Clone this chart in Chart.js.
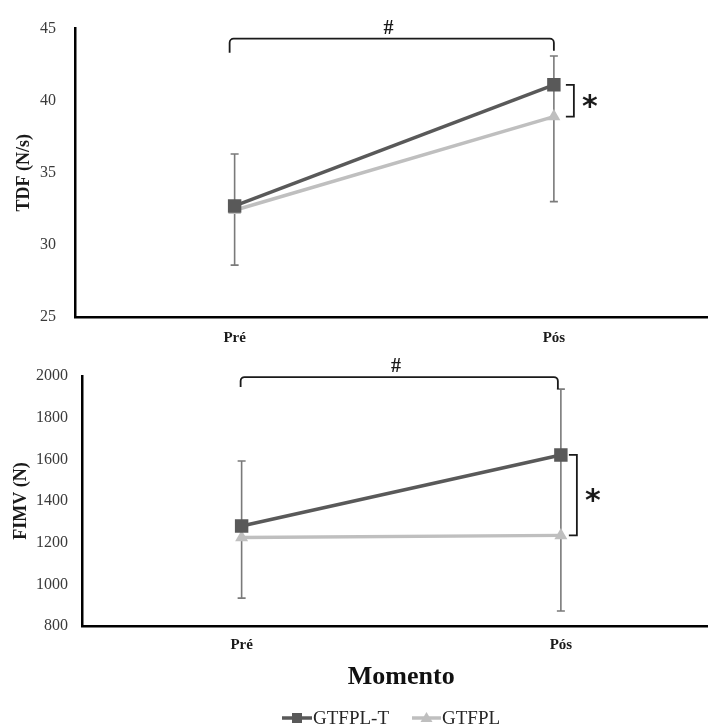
<!DOCTYPE html>
<html>
<head>
<meta charset="utf-8">
<script src="https://cdn.jsdelivr.net/npm/chart.js@4.4.1/dist/chart.umd.min.js"></script>
<style>
  html, body { margin: 0; padding: 0; background: #fff; overflow: hidden; }
  #wrap { position: relative; width: 708px; height: 726px; overflow: hidden; }
  canvas { position: absolute; left: 0; }
  #tdf-chart { top: 0; }
  #fimv-chart { top: 350px; }
</style>
</head>
<body>
<div id="wrap">
  <canvas id="tdf-chart" width="723" height="350"></canvas>
  <canvas id="fimv-chart" width="730" height="376"></canvas>
</div>
<script>
// categories / series
const moments = ["Pré", "Pós"];
const seriesNames = ["GTFPL-T", "GTFPL"];

// TDF (N/s)
const tdfTreino = [32.7, 41.1];
const tdfPlacebo = [32.4, 38.9];
const tdfErrLow = [28.6, 33.0];
const tdfErrHigh = [36.3, 43.1];
const tdfTicks = [25, 30, 35, 40, 45];

// FIMV (N)
const fimvTreino = [1280, 1621];
const fimvPlacebo = [1225, 1235];
const fimvErrLow = [934, 872];
const fimvErrHigh = [1592, 1937];
const fimvTicks = [800, 1000, 1200, 1400, 1600, 1800, 2000];

const colors = {
  dark: "#595959",
  light: "#bfbfbf",
  errBar: "#7a7a7a",
  ink: "#1a1a1a",
  tick: "#3a3a3a",
};
const serif = "'Liberation Serif', 'Times New Roman', serif";

/** Vertical error bars, one per category, drawn through the y scale */
const errorBarsPlugin = {
  id: "errorBars",
  beforeDatasetsDraw(chart, args, opts) {
    const { ctx, scales } = chart;
    ctx.save();
    ctx.strokeStyle = colors.errBar;
    ctx.lineWidth = 1.6;
    opts.low.forEach((lo, i) => {
      const x = scales.x.getPixelForValue(i);
      const y1 = scales.y.getPixelForValue(lo);
      const y2 = scales.y.getPixelForValue(opts.high[i]);
      ctx.beginPath();
      ctx.moveTo(x, y1);
      ctx.lineTo(x, y2);
      ctx.moveTo(x - 4, y1);
      ctx.lineTo(x + 4, y1);
      ctx.moveTo(x - 4, y2);
      ctx.lineTo(x + 4, y2);
      ctx.stroke();
    });
    ctx.restore();
  },
};

/** "#" bracket over both moments and "*" bracket between groups at Pós */
const bracketsPlugin = {
  id: "brackets",
  afterDatasetsDraw(chart, args, opts) {
    const { ctx, scales } = chart;
    const xPre = scales.x.getPixelForValue(0) + opts.hashLeftShift;
    const xPos = scales.x.getPixelForValue(1) + opts.hashRightShift;
    const yTop = scales.y.getPixelForValue(opts.hashY);
    const r = 4;

    ctx.save();
    ctx.strokeStyle = colors.ink;
    ctx.lineWidth = 1.8;
    ctx.beginPath();
    ctx.moveTo(xPre, yTop + opts.hashDropLeft);
    ctx.arcTo(xPre, yTop, xPre + r, yTop, r);
    ctx.lineTo(xPos - r, yTop);
    ctx.arcTo(xPos, yTop, xPos, yTop + r, r);
    ctx.lineTo(xPos, yTop + opts.hashDropRight);
    ctx.stroke();

    ctx.fillStyle = colors.ink;
    ctx.font = `bold 20px ${serif}`;
    ctx.textAlign = "center";
    ctx.textBaseline = "alphabetic";
    ctx.fillText("#", xPre + (xPos - xPre) * opts.hashTextAt, yTop - 5);

    // star bracket
    const xs = scales.x.getPixelForValue(1) + opts.starGap;
    const ya = scales.y.getPixelForValue(opts.starFrom);
    const yb = scales.y.getPixelForValue(opts.starTo);
    ctx.beginPath();
    ctx.moveTo(xs - 8, ya);
    ctx.lineTo(xs, ya);
    ctx.lineTo(xs, yb);
    ctx.lineTo(xs - 8, yb);
    ctx.stroke();

    ctx.font = "bold 30px 'DejaVu Sans', sans-serif";
    ctx.textAlign = "left";
    ctx.fillText("*", xs + 8, (ya + yb) / 2 + 15);
    ctx.restore();
  },
};

/** Excel-like legend: line with marker, then the series name */
const lineLegendPlugin = {
  id: "lineLegend",
  afterDraw(chart, args, opts) {
    const { ctx } = chart;
    const y = opts.y;
    ctx.save();
    opts.items.forEach((item) => {
      ctx.strokeStyle = item.color;
      ctx.lineWidth = 3.5;
      ctx.beginPath();
      ctx.moveTo(item.x0, y);
      ctx.lineTo(item.x1, y);
      ctx.stroke();

      const cx = (item.x0 + item.x1) / 2;
      ctx.fillStyle = item.color;
      ctx.beginPath();
      if (item.marker === "rect") {
        ctx.rect(cx - 5, y - 5, 10, 10);
      } else {
        ctx.moveTo(cx, y - 6);
        ctx.lineTo(cx + 6, y + 4);
        ctx.lineTo(cx - 6, y + 4);
        ctx.closePath();
      }
      ctx.fill();

      ctx.fillStyle = "#262626";
      ctx.font = `19px ${serif}`;
      ctx.textAlign = "left";
      ctx.textBaseline = "middle";
      ctx.fillText(item.label, item.x1 + 1, y + 1);
    });
    ctx.restore();
  },
};

function makeDatasets(treino, placebo) {
  return [
    {
      label: seriesNames[0],
      data: treino,
      borderColor: colors.dark,
      backgroundColor: colors.dark,
      borderWidth: 3.5,
      pointStyle: "rect",
      pointRadius: 9.5,
      pointBorderWidth: 0,
      order: 1,
    },
    {
      label: seriesNames[1],
      data: placebo,
      borderColor: colors.light,
      backgroundColor: colors.light,
      borderWidth: 3.5,
      pointStyle: "triangle",
      pointRadius: 7.5,
      pointBorderWidth: 0,
      order: 2,
    },
  ];
}

function makeOptions(cfg) {
  return {
    responsive: false,
    animation: false,
    devicePixelRatio: 1,
    layout: { padding: { top: 26, right: 0, bottom: cfg.bottomPad, left: 0 } },
    plugins: {
      legend: { display: false },
      tooltip: { enabled: false },
      errorBars: { low: cfg.errLow, high: cfg.errHigh },
      brackets: cfg.brackets,
      lineLegend: cfg.legend || { items: [], y: 0 },
    },
    scales: {
      x: {
        type: "category",
        offset: true,
        grid: { display: false, drawTicks: false },
        border: { display: true, color: "#000", width: 2.5 },
        ticks: {
          color: "#1a1a1a",
          padding: cfg.xTickPad,
          font: { family: serif, size: 15, weight: "bold" },
        },
        title: cfg.xTitle,
        afterFit: (scale) => { scale.height = cfg.xHeight; },
      },
      y: {
        min: cfg.ticks[0],
        max: cfg.ticks[cfg.ticks.length - 1],
        grid: { display: false, drawTicks: false },
        border: { display: true, color: "#000", width: 2.5 },
        afterBuildTicks: (scale) => {
          scale.ticks = cfg.ticks.map((v) => ({ value: v }));
        },
        ticks: {
          color: colors.tick,
          padding: cfg.yTickPad,
          font: { family: serif, size: 16 },
          callback: (v) => String(v),
        },
        title: {
          display: true,
          text: cfg.yTitle,
          color: "#1a1a1a",
          padding: { top: cfg.yTitlePad, bottom: 0 },
          font: { family: serif, size: 18, weight: "bold" },
        },
        afterFit: (scale) => { scale.width = cfg.yWidth; },
      },
    },
  };
}

Chart.register(errorBarsPlugin, bracketsPlugin, lineLegendPlugin);

new Chart(document.getElementById("tdf-chart"), {
  type: "line",
  data: { labels: moments, datasets: makeDatasets(tdfTreino, tdfPlacebo) },
  options: makeOptions({
    ticks: tdfTicks,
    errLow: tdfErrLow,
    errHigh: tdfErrHigh,
    yTitle: "TDF (N/s)",
    yWidth: 75,
    yTickPad: 19,
    yTitlePad: 14,
    xHeight: 33,
    xTickPad: 12,
    bottomPad: 0,
    xTitle: { display: false },
    brackets: {
      hashY: 44.3, hashDropLeft: 14, hashDropRight: 12,
      hashLeftShift: -5, hashRightShift: 0, hashTextAt: 0.49,
      starGap: 20, starFrom: tdfTreino[1], starTo: tdfPlacebo[1],
    },
  }),
});

new Chart(document.getElementById("fimv-chart"), {
  type: "line",
  data: { labels: moments, datasets: makeDatasets(fimvTreino, fimvPlacebo) },
  options: makeOptions({
    ticks: fimvTicks,
    errLow: fimvErrLow,
    errHigh: fimvErrHigh,
    yTitle: "FIMV (N)",
    yWidth: 82,
    yTickPad: 14,
    yTitlePad: 11,
    xHeight: 70,
    xTickPad: 10,
    bottomPad: 30,
    xTitle: {
      display: true,
      text: "Momento",
      color: "#111",
      padding: { top: 0, bottom: 3 },
      font: { family: serif, size: 26, weight: "bold" },
    },
    brackets: {
      hashY: 1995, hashDropLeft: 10, hashDropRight: 12,
      hashLeftShift: -1, hashRightShift: -3, hashTextAt: 0.49,
      starGap: 16, starFrom: fimvTreino[1], starTo: fimvPlacebo[1],
    },
    legend: {
      y: 368,
      items: [
        { label: seriesNames[0], color: colors.dark, marker: "rect", x0: 282, x1: 312 },
        { label: seriesNames[1], color: colors.light, marker: "triangle", x0: 412, x1: 441 },
      ],
    },
  }),
});
</script>
</body>
</html>
